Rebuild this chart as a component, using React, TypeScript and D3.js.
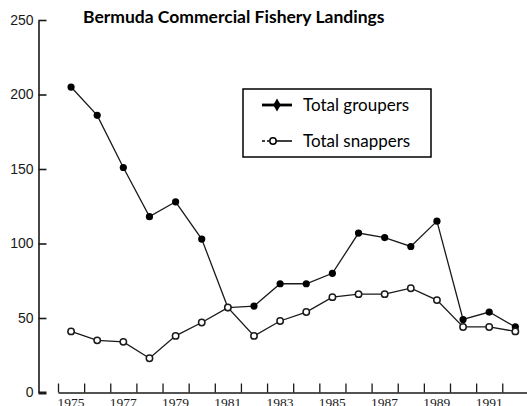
import { useEffect, useRef } from "react";
import * as d3 from "d3";

// Landings by year
const years = [1975, 1976, 1977, 1978, 1979, 1980, 1981, 1982, 1983, 1984, 1985, 1986, 1987, 1988, 1989, 1990, 1991, 1992];
const groupers = [205, 186, 151, 118, 128, 103, 57, 58, 73, 73, 80, 107, 104, 98, 115, 49, 54, 44];
const snappers = [41, 35, 34, 23, 38, 47, 57, 38, 48, 54, 64, 66, 66, 70, 62, 44, 44, 41];
const yTicks = [0, 50, 100, 150, 200, 250];
const labelYears = [1975, 1977, 1979, 1981, 1983, 1985, 1987, 1989, 1991];
const title = "Bermuda Commercial Fishery Landings";
const legendNames = ["Total groupers", "Total snappers"];

const App = () => {
  const canvas = useRef(null);

  useEffect(() => {
    drawChart();
  }, []);

  const drawChart = () => {
    d3.select(canvas.current).selectAll("svg").remove();

    const width = 527;
    const height = 406;
    const ink = "#1a1a1a";

    const svg = d3
      .select(canvas.current)
      .append("svg")
      .attr("width", width)
      .attr("height", height)
      .style("position", "absolute")
      .style("left", 0)
      .style("top", 0)
      .style("background", "white");

    const xScale = d3.scaleLinear().domain([1975, 1993]).range([58, 528.4]);
    const yScale = d3.scaleLinear().domain([0, 250]).range([392.5, 20]);

    // Y axis, ticks point inward
    const yAxis = svg
      .append("g")
      .attr("transform", "translate(38.5,0)")
      .call(
        d3.axisLeft(yScale).tickValues(yTicks).tickSizeInner(-8).tickSizeOuter(0).tickPadding(5)
      );
    yAxis.select(".domain").attr("stroke", ink).attr("stroke-width", 1.6);
    yAxis.selectAll(".tick line").attr("stroke", ink).attr("stroke-width", 1.6);
    yAxis.selectAll(".tick").filter((d) => d === 0).select("line").attr("stroke-width", 3);
    yAxis
      .selectAll(".tick text")
      .attr("fill", ink)
      .attr("font-family", "Liberation Sans")
      .attr("font-size", 14);

    // X axis, ticks point up, labels every other year
    const xAxis = svg
      .append("g")
      .attr("transform", "translate(0,392.5)")
      .call(
        d3
          .axisBottom(xScale)
          .tickValues(years)
          .tickFormat((d) => (labelYears.includes(d) ? String(d) : ""))
          .tickSizeInner(-9)
          .tickSizeOuter(0)
          .tickPadding(5)
      );
    xAxis.select(".domain").attr("stroke", ink).attr("stroke-width", 1.4);
    xAxis.selectAll(".tick line").attr("stroke", ink).attr("stroke-width", 1.3);
    xAxis
      .selectAll(".tick text")
      .attr("fill", ink)
      .attr("text-anchor", "start")
      .attr("dx", -1)
      .attr("font-family", "Liberation Sans Narrow")
      .attr("font-size", 13.5);

    // Points sit mid-year
    const line = d3
      .line()
      .x((d) => xScale(d[0] + 0.5))
      .y((d) => yScale(d[1]));

    const grouperData = years.map((y, i) => [y, groupers[i]]);
    const snapperData = years.map((y, i) => [y, snappers[i]]);

    svg
      .append("path")
      .datum(snapperData)
      .attr("d", line)
      .attr("fill", "none")
      .attr("stroke", ink)
      .attr("stroke-width", 1.3);

    svg
      .append("path")
      .datum(grouperData)
      .attr("d", line)
      .attr("fill", "none")
      .attr("stroke", ink)
      .attr("stroke-width", 1.3);

    svg
      .append("g")
      .selectAll("circle")
      .data(grouperData)
      .join("circle")
      .attr("cx", (d) => xScale(d[0] + 0.5))
      .attr("cy", (d) => yScale(d[1]))
      .attr("r", 3.6)
      .attr("fill", "black");

    svg
      .append("g")
      .selectAll("circle")
      .data(snapperData)
      .join("circle")
      .attr("cx", (d) => xScale(d[0] + 0.5))
      .attr("cy", (d) => yScale(d[1]))
      .attr("r", 3.2)
      .attr("fill", "white")
      .attr("stroke", ink)
      .attr("stroke-width", 1.5);

    // Title
    svg
      .append("text")
      .attr("x", 83)
      .attr("y", 23)
      .attr("font-family", "Lato")
      .attr("font-weight", "bold")
      .attr("font-size", 17.5)
      .attr("fill", "black")
      .text(title);

    // Legend
    const legend = svg.append("g");
    legend
      .append("rect")
      .attr("x", 243)
      .attr("y", 89)
      .attr("width", 188)
      .attr("height", 68)
      .attr("fill", "white")
      .attr("stroke", "black")
      .attr("stroke-width", 1.5);

    legend
      .append("line")
      .attr("x1", 262)
      .attr("x2", 292)
      .attr("y1", 105)
      .attr("y2", 105)
      .attr("stroke", "black")
      .attr("stroke-width", 2.8);
    legend
      .append("path")
      .attr("d", d3.symbol(d3.symbolDiamond, 50)())
      .attr("transform", "translate(277,105)")
      .attr("fill", "black");

    legend
      .append("line")
      .attr("x1", 262)
      .attr("x2", 292)
      .attr("y1", 141)
      .attr("y2", 141)
      .attr("stroke", "black")
      .attr("stroke-width", 1.5)
      .attr("stroke-dasharray", "3,2,2,2,30");
    legend
      .append("circle")
      .attr("cx", 273)
      .attr("cy", 141)
      .attr("r", 3.2)
      .attr("fill", "white")
      .attr("stroke", "black")
      .attr("stroke-width", 1.5);

    legend
      .selectAll("text")
      .data(legendNames)
      .join("text")
      .attr("x", 303)
      .attr("y", (d, i) => 111 + i * 36)
      .attr("font-family", "Lato")
      .attr("font-size", 17)
      .attr("fill", "black")
      .text((d) => d);
  };

  return <div className="canvas-container" ref={canvas}></div>;
};

export default App;
